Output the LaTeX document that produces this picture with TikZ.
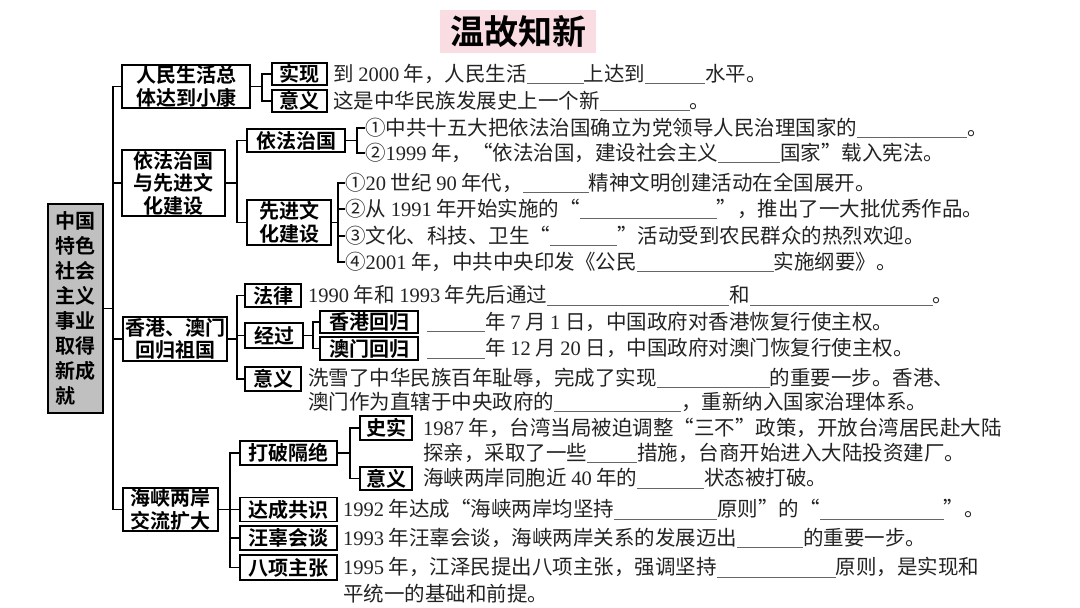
\documentclass[tikz,border=0pt]{standalone}
\usepackage{fontspec}
\setmainfont{Noto Sans CJK SC}[BoldFont={Noto Sans CJK SC Bold}]
\newfontfamily\latf{Liberation Serif}
\newcommand\D[1]{{\latf #1}}
\newcommand\blank[1]{{\color{black!60}\rule[-3pt]{#1pt}{0.8pt}}}
\definecolor{titlepink}{RGB}{249,221,227}
\definecolor{rootgray}{RGB}{192,192,192}
\definecolor{txt}{RGB}{35,35,35}
\begin{document}
\begin{tikzpicture}[x=1pt,y=-1pt,
  box/.style={draw=black, line width=1.4pt, inner sep=0pt, align=center,
    font=\fontsize{20}{22.5}\selectfont\bfseries, text=black},
  sz/.style 2 args={minimum width=#1pt, minimum height=#2pt},
  conn/.style={line width=1.2pt},
  txtn/.style={anchor=west, inner sep=0pt, font=\fontsize{20.5}{24}\selectfont, text=txt},
]
\useasboundingbox (0,0) rectangle (1080,608);

% title
\node[fill=titlepink, sz={156}{43}, inner sep=0pt, font=\fontsize{34}{36}\selectfont\bfseries] (title) at (518,31.5) {温故知新};

% root
\node[box, fill=rootgray, sz={55}{209}, align=left, font=\fontsize{20}{25}\selectfont\bfseries] (root) at (75.5,308.5)
  {中国\\特色\\社会\\主义\\事业\\取得\\新成\\就};
\coordinate (jr) at (113,308.5);

% level 1
\node[box, sz={128}{43}] (b1) at (186,86.5) {人民生活总\\体达到小康};
\node[box, sz={103}{66}] (b2) at (173.5,183) {依法治国\\与先进文\\化建设};
\node[box, sz={104}{44}] (b3) at (175,339) {香港、澳门\\回归祖国};
\node[box, sz={95}{43}] (b4) at (170.5,509.5) {海峡两岸\\交流扩大};

\draw[conn] (root.east) -- (jr);
\foreach \b in {b1,b2,b3,b4} \draw[conn] (\b.west) -| (jr);

% ---- branch 1
\coordinate (j1) at (262,86.5);
\node[box, sz={55}{22}] (s1) at (299.5,74) {实现};
\node[box, sz={55}{22}] (y1) at (299.5,101) {意义};
\draw[conn] (b1.east) -- (j1);
\draw[conn] (s1.west) -| (j1);
\draw[conn] (y1.west) -| (j1);
\node[txtn] (t1a) at (333,74) {到 \D{2000} 年，人民生活\blank{57}上达到\blank{60}水平。};
\node[txtn] (t1b) at (333,101) {这是中华民族发展史上一个新\blank{90}。};

% ---- branch 2
\coordinate (j2) at (237,183);
\node[box, sz={98}{23}] (f1) at (296,140.5) {依法治国};
\node[box, sz={84}{45}] (x1) at (289,222.5) {先进文\\化建设};
\draw[conn] (b2.east) -- (j2);
\draw[conn] (f1.west) -| (j2);
\draw[conn] (x1.west) -| (j2);

\coordinate (j3) at (357,140.5);
\node[txtn] (fa) at (365,128) {①中共十五大把依法治国确立为党领导人民治理国家的\blank{110}。};
\node[txtn] (fb) at (365,153) {②\D{1999} 年，“依法治国，建设社会主义\blank{62}国家”载入宪法。};
\draw[conn] (f1.east) -- (j3);
\draw[conn] (fa.west) -| (j3);
\draw[conn] (fb.west) -| (j3);

\coordinate (j4) at (338,222.5);
\node[txtn] (xa) at (345,183) {①\D{20} 世纪 \D{90} 年代，\blank{66}精神文明创建活动在全国展开。};
\node[txtn] (xb) at (345,209) {②从 \D{1991} 年开始实施的“\blank{137}”，推出了一大批优秀作品。};
\node[txtn] (xc) at (345,236) {③文化、科技、卫生“\blank{67}”活动受到农民群众的热烈欢迎。};
\node[txtn] (xd) at (345,262) {④\D{2001} 年，中共中央印发《公民\blank{137}实施纲要》。};
\draw[conn] (x1.east) -- (j4);
\foreach \t in {xa,xb,xc,xd} \draw[conn] (\t.west) -| (j4);

% ---- branch 3
\coordinate (j5) at (237,339);
\node[box, sz={56}{23}] (law) at (273,295.5) {法律};
\node[box, sz={58}{25}] (jg) at (274,335.5) {经过};
\node[box, sz={56}{24}] (yy) at (273,379) {意义};
\draw[conn] (b3.east) -- (j5);
\foreach \b in {law,jg,yy} \draw[conn] (\b.west) -| (j5);
\node[txtn] (lawt) at (308,295.5) {\D{1990} 年和 \D{1993} 年先后通过\blank{182}和\blank{183}。};

\coordinate (j6) at (313,335.5);
\node[box, sz={98}{22}] (hk) at (369,322) {香港回归};
\node[box, sz={98}{23}] (mo) at (369,348.5) {澳门回归};
\draw[conn] (jg.east) -- (j6);
\draw[conn] (hk.west) -| (j6);
\draw[conn] (mo.west) -| (j6);
\node[txtn] (hkt) at (427,322) {\blank{58}年 \D{7} 月 \D{1} 日，中国政府对香港恢复行使主权。};
\node[txtn] (mot) at (427,348.5) {\blank{58}年 \D{12} 月 \D{20} 日，中国政府对澳门恢复行使主权。};
\node[txtn] (yya) at (308,378) {洗雪了中华民族百年耻辱，完成了实现\blank{113}的重要一步。香港、};
\node[txtn] (yyb) at (308,402) {澳门作为直辖于中央政府的\blank{127}，重新纳入国家治理体系。};

% ---- branch 4
\coordinate (j7) at (230,509.5);
\node[box, sz={97}{24}] (dp) at (288.5,453) {打破隔绝};
\node[box, sz={97}{24}] (dc) at (288.5,509.5) {达成共识};
\node[box, sz={97}{24}] (wg) at (288.5,538) {汪辜会谈};
\node[box, sz={97}{25}] (bx) at (288.5,567.5) {八项主张};
\draw[conn] (b4.east) -- (j7);
\foreach \b in {dp,dc,wg,bx} \draw[conn] (\b.west) -| (j7);

\coordinate (j8) at (350,453);
\node[box, sz={52}{24}] (ss) at (386,428) {史实};
\node[box, sz={52}{23}] (dy) at (386,478.5) {意义};
\draw[conn] (dp.east) -- (j8);
\draw[conn] (ss.west) -| (j8);
\draw[conn] (dy.west) -| (j8);
\node[txtn] (ssa) at (423,428) {\D{1987} 年，台湾当局被迫调整“三不”政策，开放台湾居民赴大陆};
\node[txtn] (ssb) at (423,453) {探亲，采取了一些\blank{50}措施，台商开始进入大陆投资建厂。};
\node[txtn] (dyt) at (423,478.5) {海峡两岸同胞近 \D{40} 年的\blank{67}状态被打破。};

\node[txtn] (dct) at (343,509.5) {\D{1992} 年达成“海峡两岸均坚持\blank{103}原则”的“\blank{124}”。};
\node[txtn] (wgt) at (343,538) {\D{1993} 年汪辜会谈，海峡两岸关系的发展迈出\blank{66}的重要一步。};
\node[txtn] (bxa) at (343,567.5) {\D{1995} 年，江泽民提出八项主张，强调坚持\blank{119}原则，是实现和};
\node[txtn] (bxb) at (343,594) {平统一的基础和前提。};
\end{tikzpicture}
\end{document}
